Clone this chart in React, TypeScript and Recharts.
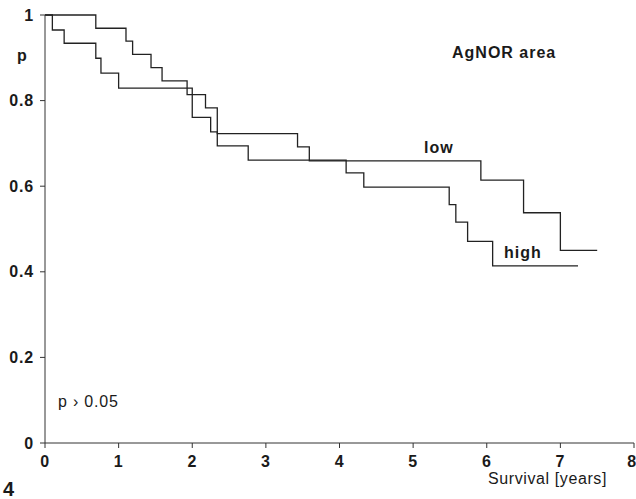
import React from 'react';
import { LineChart, Line, XAxis, YAxis } from 'recharts';

// Kaplan-Meier survival, AgNOR area (step times in years, survival probability)
const lowTimes = [0, 0.69, 1.1, 1.19, 1.44, 1.59, 1.93, 2.18, 2.34, 3.43, 3.59, 5.92, 6.5, 7.0, 7.5];
const lowSurv = [1, 0.969, 0.939, 0.908, 0.877, 0.846, 0.814, 0.783, 0.723, 0.692, 0.659, 0.614, 0.538, 0.45, 0.45];

const highTimes = [0, 0.1, 0.26, 0.69, 0.76, 1.0, 2.0, 2.25, 2.34, 2.76, 4.09, 4.33, 5.49, 5.58, 5.74, 6.08, 7.24];
const highSurv = [1, 0.965, 0.934, 0.899, 0.864, 0.829, 0.761, 0.727, 0.694, 0.661, 0.631, 0.598, 0.557, 0.516, 0.471, 0.414, 0.414];

const xTicks = [0, 1, 2, 3, 4, 5, 6, 7, 8];
const yTicks = [0, 0.2, 0.4, 0.6, 0.8, 1];
const yTickLabels = ['0', '0.2', '0.4', '0.6', '0.8', '1'];

const lowData = lowTimes.map((t, i) => ({ t, p: lowSurv[i] }));
const highData = highTimes.map((t, i) => ({ t, p: highSurv[i] }));

const font = '"Liberation Sans", Arial, sans-serif';
const ink = '#1a1a1a';

const XTick = ({ x, y, payload }: any) => (
  <text x={x} y={y} dy={17} textAnchor="middle" fontFamily={font} fontWeight="bold" fontSize={16} letterSpacing={0.8} fill={ink}>
    {payload.value}
  </text>
);

const YTick = ({ x, y, payload }: any) => {
  const idx = yTicks.indexOf(payload.value);
  return (
    <text x={x} y={y} dx={-4} dy={5.5} textAnchor="end" fontFamily={font} fontWeight="bold" fontSize={16} letterSpacing={0.8} fill={ink}>
      {idx >= 0 ? yTickLabels[idx] : payload.value}
    </text>
  );
};

export default function App() {
  return (
    <div style={{ position: 'absolute', left: 0, top: 0, width: 636, height: 499, background: '#fff' }}>
      <LineChart width={636} height={499} margin={{ top: 15, right: 2, left: 0, bottom: 0 }}>
        <XAxis
          dataKey="t"
          type="number"
          domain={[0, 8]}
          ticks={xTicks}
          height={56}
          tickSize={5}
          stroke="#333"
          tick={<XTick />}
          allowDuplicatedCategory={false}
        />
        <YAxis
          type="number"
          domain={[0, 1]}
          ticks={yTicks}
          width={45}
          tickSize={5}
          stroke="#333"
          tick={<YTick />}
        />
        <Line data={lowData} dataKey="p" type="stepAfter" stroke="#222" strokeWidth={1.3} dot={false} isAnimationActive={false} />
        <Line data={highData} dataKey="p" type="stepAfter" stroke="#222" strokeWidth={1.3} dot={false} isAnimationActive={false} />
      </LineChart>
      <svg width={636} height={499} style={{ position: 'absolute', left: 0, top: 0, pointerEvents: 'none' }}>
        <g fontFamily={font} fill={ink}>
          <text x={22} y={61} textAnchor="middle" fontSize={16} fontWeight="bold">p</text>
          <text x={452} y={58} fontSize={16} fontWeight="bold" letterSpacing={1}>AgNOR area</text>
          <text x={424} y={153} fontSize={16} fontWeight="bold" letterSpacing={1}>low</text>
          <text x={504} y={258} fontSize={16} fontWeight="bold" letterSpacing={1}>high</text>
          <text x={58} y={407} fontSize={16} letterSpacing={0.8}>p › 0.05</text>
          <text x={607} y={484} textAnchor="end" fontSize={16} letterSpacing={0.6}>Survival [years]</text>
          <text x={3} y={496} fontSize={20} fontWeight="bold">4</text>
        </g>
      </svg>
    </div>
  );
}
